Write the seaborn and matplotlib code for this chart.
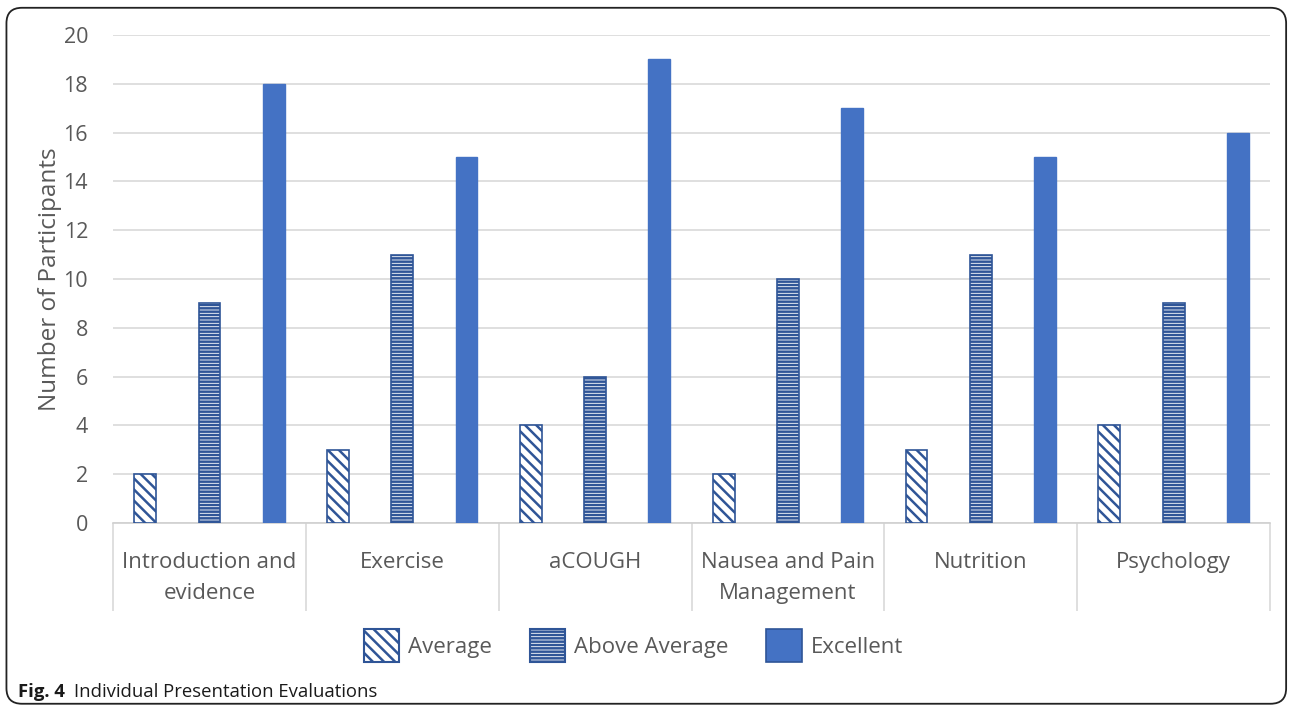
import matplotlib
matplotlib.use("Agg")
import matplotlib.pyplot as plt
import seaborn as sns
import pandas as pd
from matplotlib.patches import FancyBboxPatch, Patch

categories = ["Introduction and\nevidence", "Exercise", "aCOUGH",
              "Nausea and Pain\nManagement", "Nutrition", "Psychology"]
series = ["Average", "Above Average", "Excellent"]
average = [2, 3, 4, 2, 3, 4]
above_average = [9, 11, 6, 10, 11, 9]
excellent = [18, 15, 19, 17, 15, 16]
y_ticks = [0, 2, 4, 6, 8, 10, 12, 14, 16, 18, 20]

rows = []
for name, vals in zip(series, [average, above_average, excellent]):
    for c, v in zip(categories, vals):
        rows.append({"Category": c, "Rating": name, "Count": v})
df = pd.DataFrame(rows)

sns.set_theme(style="white")
plt.rcParams['font.family'] = ['Open Sans', 'DejaVu Sans']
plt.rcParams['hatch.linewidth'] = 1.8

BLUE = "#4472C4"
DARK = "#2F5597"
GREY = "#595959"

fig = plt.figure(figsize=(12.9, 7.08), dpi=100)
ax = fig.add_axes([0.0876, 0.2613, 0.897, 0.6893])

sns.barplot(data=df, x="Category", y="Count", hue="Rating", order=categories,
            hue_order=series, palette=[BLUE, BLUE, BLUE], width=1.0, gap=0.66,
            saturation=1, legend=False, ax=ax, zorder=3)

hatches = {"Average": "\\\\\\", "Above Average": "-----", "Excellent": None}
n = len(categories)
for i, p in enumerate(ax.patches[:3 * n]):
    s = series[i // n]
    if hatches[s]:
        p.set_facecolor("white")
        p.set_edgecolor(DARK)
        p.set_hatch(hatches[s])
        p.set_linewidth(1.2)
    else:
        p.set_facecolor(BLUE)
        p.set_edgecolor(BLUE)

ax.set_ylim(0, 20)
ax.set_xlim(-0.5, n - 0.5)
ax.set_yticks(y_ticks)
ax.yaxis.grid(True, color="#D9D9D9", linewidth=1.2, zorder=0)
ax.set_axisbelow(True)
for sp in ["top", "right", "left"]:
    ax.spines[sp].set_visible(False)
ax.spines["bottom"].set_color("#D0D0D0")
ax.spines["bottom"].set_linewidth(1.2)

ax.tick_params(axis="y", labelsize=15.5, labelcolor=GREY, length=0, pad=18, left=False)
ax.set_xticks([i - 0.5 for i in range(n + 1)], minor=True)
ax.tick_params(axis="x", which="major", labelsize=16, labelcolor=GREY, length=0, pad=21, bottom=False)
ax.tick_params(axis="x", which="minor", length=63, color="#D9D9D9", width=1.2, bottom=True)
for t in ax.get_xticklabels():
    t.set_linespacing(1.6)
ax.set_xlabel("")
ax.set_ylabel("Number of Participants", fontsize=17.5, color=GREY, labelpad=1)

handles = [Patch(facecolor="white", edgecolor=DARK, hatch="\\\\\\", linewidth=1.5, label="Average"),
           Patch(facecolor="white", edgecolor=DARK, hatch="-----", linewidth=1.5, label="Above Average"),
           Patch(facecolor=BLUE, edgecolor=DARK, linewidth=1.2, label="Excellent")]
fig.legend(handles=handles, loc="center", bbox_to_anchor=(0.491, 0.088), ncol=3,
           frameon=False, fontsize=16, handlelength=1.6, handleheight=1.9,
           handletextpad=0.4, columnspacing=1.7, labelcolor=GREY)

fig.text(0.014, 0.016, "Fig. 4", fontsize=13.3, fontweight="bold", color="#1a1a1a", va="baseline")
fig.text(0.0575, 0.016, "Individual Presentation Evaluations", fontsize=13.3, color="#1a1a1a", va="baseline")

border = FancyBboxPatch((0.005, 0.006), 0.992, 0.983, boxstyle="round,pad=0,rounding_size=0.012",
                        transform=fig.transFigure, fill=False, edgecolor="#222222", linewidth=1.3,
                        mutation_aspect=1.82)
fig.patches.append(border)

fig.savefig("out.png", dpi=100)
